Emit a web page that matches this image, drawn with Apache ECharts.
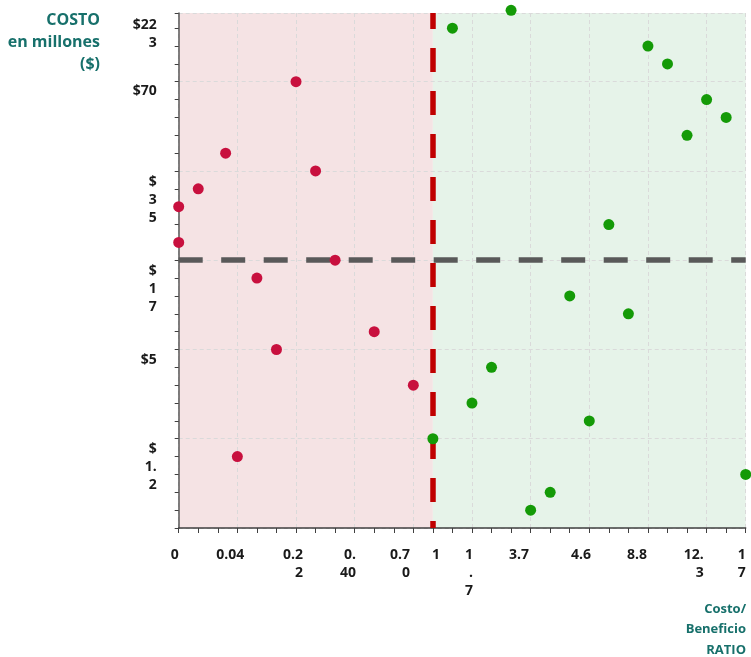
<!DOCTYPE html>
<html>
<head>
<meta charset="utf-8">
<style>
  html, body { margin: 0; padding: 0; background: #ffffff; }
  #chart { width: 751px; height: 657px; }
</style>
<script src="https://cdn.jsdelivr.net/npm/echarts@6/dist/echarts.min.js"></script>
</head>
<body>
<div id="chart"></div>
<script>
// ---- data (ranks) ----
const redX   = [0, 0, 1, 2.4, 3, 4, 5, 6, 7, 8, 10, 12];
const redY   = [18, 16, 19, 21, 4, 14, 10, 25, 20, 15, 11, 8];
const greenX = [13, 14, 15, 16, 17, 18, 19, 20, 21, 22, 23, 24, 25, 26, 27, 28, 29];
const greenY = [5, 28, 7, 9, 29, 1, 2, 13, 6, 17, 12, 27, 26, 22, 24, 23, 3];

const ratioThreshold = 13;   // position of ratio "1"
const costThreshold  = 15;   // horizontal cost split

const xTickLabels = ['0', '0.04', '0.2\n2', '0.\n40', '0.7\n0', '1', '1\n.\n7', '3.7', '4.6', '8.8', '12.\n3', '1\n7'];
const xTickAt     = [0, 3.35, 6.36, 9.07, 11.83, 13.37, 15.05, 17.92, 21.09, 23.95, 26.85, 29];
const yTickLabels = ['$22\n3', '$70', '$\n3\n5', '$\n1\n7', '$5', '$\n1.\n2'];
const yTickAt     = [27.66, 24.49, 18.39, 13.39, 9.41, 3.44];

const yAxisName = 'COSTO\nen millones\n($)';
const xAxisName = 'Costo/\nBeneficio\nRATIO';

const xMin = 0, xMax = 29;
const yMin = 0, yMax = 28.85;

function pairs(xs, ys) { return xs.map((x, i) => [x, ys[i]]); }
function labelFor(positions, labels) {
  return function (v) {
    let best = -1, bd = Infinity;
    positions.forEach((p, i) => { const d = Math.abs(p - v); if (d < bd) { bd = d; best = i; } });
    return bd < 1e-6 ? labels[best] : '';
  };
}

const FONT = 'Open Sans';
const TEAL = '#17706b';
const gridDash = { color: '#dadada', width: 1, type: [4, 3] };

const chart = echarts.init(document.getElementById('chart'), null, { renderer: 'canvas' });
chart.setOption({
  animation: false,
  backgroundColor: '#ffffff',
  textStyle: { fontFamily: FONT },
  graphic: [
    {
      type: 'text', x: 100, y: 10, z: 10, silent: true,
      style: {
        text: yAxisName, align: 'right', verticalAlign: 'top',
        fill: TEAL, fontFamily: FONT, fontWeight: 'bold', fontSize: 16, lineHeight: 21.7
      }
    },
    {
      type: 'text', x: 746, y: 599, z: 10, silent: true,
      style: {
        text: xAxisName, align: 'right', verticalAlign: 'top',
        fill: TEAL, fontFamily: FONT, fontWeight: 'bold', fontSize: 13, lineHeight: 20.5
      }
    }
  ],
  grid: { left: 178.7, right: 5.3, top: 13, bottom: 129, containLabel: false },
  xAxis: [
    {
      type: 'value', min: xMin, max: xMax, interval: 1, position: 'bottom', z: 3,
      axisLine: { show: true, lineStyle: { color: '#404040', width: 1.5 } },
      axisTick: { show: true, length: 5, lineStyle: { color: '#404040', width: 1 } },
      splitLine: { show: false },
      axisLabel: {
        show: true, customValues: xTickAt, formatter: labelFor(xTickAt, xTickLabels),
        margin: 18, align: 'right', lineHeight: 18,
        color: '#1a1a1a', fontFamily: FONT, fontWeight: 'bold', fontSize: 14
      }
    },
    {
      type: 'value', min: xMin, max: xMax, interval: 3, z: 3,
      axisLine: { show: false }, axisTick: { show: false }, axisLabel: { show: false },
      splitLine: { show: true, lineStyle: gridDash }
    }
  ],
  yAxis: [
    {
      type: 'value', min: yMin, max: yMax, interval: 1, position: 'left', z: 3,
      axisLine: { show: true, lineStyle: { color: '#595959', width: 1.5 } },
      axisTick: { show: true, length: 4, lineStyle: { color: '#404040', width: 1 } },
      splitLine: { show: false },
      axisLabel: {
        show: true, customValues: yTickAt, formatter: labelFor(yTickAt, yTickLabels),
        margin: 22, align: 'right', lineHeight: 18,
        color: '#1a1a1a', fontFamily: FONT, fontWeight: 'bold', fontSize: 14
      }
    },
    {
      type: 'value', min: yMin, max: yMax, interval: 5, z: 3,
      axisLine: { show: false }, axisTick: { show: false }, axisLabel: { show: false },
      splitLine: { show: true, lineStyle: gridDash }
    }
  ],
  series: [
    {
      name: 'zonas', type: 'scatter', data: [], z: 1, silent: true,
      markArea: {
        silent: true,
        data: [
          [{ xAxis: xMin, itemStyle: { color: '#f5e3e4' } }, { xAxis: ratioThreshold }],
          [{ xAxis: ratioThreshold, itemStyle: { color: '#e6f3e9' } }, { xAxis: xMax }]
        ]
      }
    },
    {
      name: 'umbrales', type: 'scatter', data: [], z: 4, silent: true,
      markLine: {
        silent: true, symbol: ['none', 'none'], label: { show: false },
        data: [
          { yAxis: costThreshold, lineStyle: { color: '#595959', width: 5.5, type: [24, 18.5] } },
          { xAxis: ratioThreshold, lineStyle: { color: '#c00000', width: 5.5, type: [24, 19], dashOffset: 17 } }
        ]
      }
    },
    {
      name: 'Ratio < 1', type: 'scatter', z: 5, clip: false,
      symbol: 'circle', symbolSize: 11,
      itemStyle: { color: '#c8103e', opacity: 1 },
      data: pairs(redX, redY)
    },
    {
      name: 'Ratio ≥ 1', type: 'scatter', z: 5, clip: false,
      symbol: 'circle', symbolSize: 11,
      itemStyle: { color: '#149a07', opacity: 1 },
      data: pairs(greenX, greenY)
    }
  ]
});
</script>
</body>
</html>
